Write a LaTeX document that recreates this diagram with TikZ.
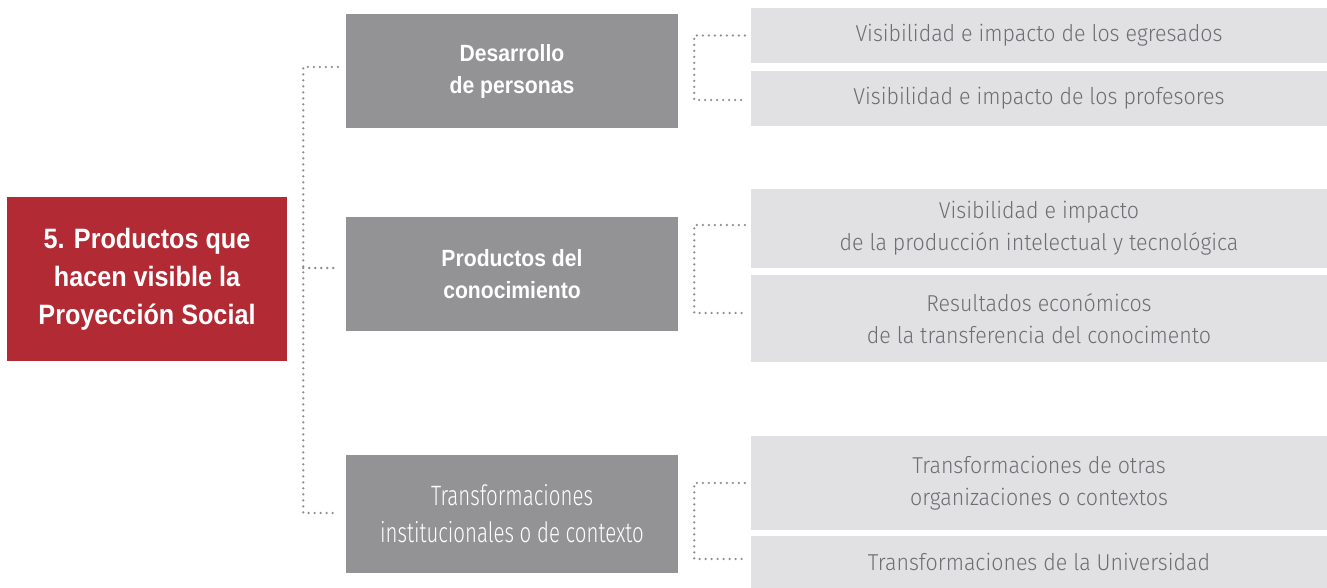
\documentclass[tikz,border=0pt]{standalone}
\usepackage{fontspec}
\setmainfont{Liberation Sans}
\newfontfamily\condb{Liberation Sans}[FakeStretch=0.9]
\newfontfamily\lightf{Fira Sans}[UprightFont=* Light, FakeStretch=0.93]
\newfontfamily\lightc{Fira Sans}[UprightFont=* Light, FakeStretch=0.73]
\usetikzlibrary{calc}
\definecolor{redbox}{HTML}{B22A33}
\definecolor{graybox}{HTML}{939396}
\definecolor{lightbox}{HTML}{E1E1E3}
\definecolor{lighttext}{HTML}{6D6E71}
\definecolor{dotc}{HTML}{8E8E90}
\begin{document}
\begin{tikzpicture}[x=1pt,y=-1pt,
  main/.style={fill=redbox, text=white, align=center, inner sep=0pt, minimum width=280pt, minimum height=164pt, font=\condb\bfseries\fontsize{28}{38}\selectfont},
  cat/.style={fill=graybox, text=white, align=center, inner sep=0pt, minimum width=332pt, minimum height=114pt, font=\condb\bfseries\fontsize{23.5}{32}\selectfont},
  item/.style={fill=lightbox, text=lighttext, align=center, inner sep=0pt, minimum width=576pt, font=\lightf\fontsize{23}{32}\selectfont},
  link/.style={draw=dotc, line width=2.6pt, line cap=round, dash pattern=on 0pt off 6pt}]
\useasboundingbox (0,0) rectangle (1327,588);
\node[main] (root) at (147,279) {5. Productos que\\hacen visible la\\Proyección Social};
\node[cat] (c1) at (512,71) {Desarrollo\\de personas};
\node[cat] (c2) at (512,274) {Productos del\\conocimiento};
\node[cat, minimum height=118pt, font=\lightc\fontsize{28}{37}\selectfont] (c3) at (512,514) {Transformaciones\\institucionales o de contexto};
\node[item, minimum height=55pt] (i1) at (1039,35.5) {Visibilidad e impacto de los egresados};
\node[item, minimum height=55pt] (i2) at (1039,98.5) {Visibilidad e impacto de los profesores};
\node[item, minimum height=79pt] (i3) at (1039,228.5) {Visibilidad e impacto\\de la producción intelectual y tecnológica};
\node[item, minimum height=87pt] (i4) at (1039,318.5) {Resultados económicos\\de la transferencia del conocimento};
\node[item, minimum height=94pt] (i5) at (1039,483) {Transformaciones de otras\\organizaciones o contextos};
\node[item, minimum height=52pt] (i6) at (1039,562) {Transformaciones de la Universidad};
% left bracket
\coordinate (bx) at ($(root.east)+(16,0)$);
\coordinate (L1) at ($(c1.west)+(-8,-4)$);
\coordinate (L2) at ($(c2.west)+(-8,-6)$);
\coordinate (L3) at ($(c3.west)+(-8,-1)$);
\draw[link] (L1) -- (L1 -| bx) -- (L3 -| bx) -- (L3);
\draw[link] (L2 -| bx) -- (L2);
% right brackets
\coordinate (rx) at ($(c1.east)+(16,0)$);
\coordinate (a1) at ($(i1.west)+(-6,0)$);
\coordinate (b1) at ($(i2.west)+(-6,1.5)$);
\draw[link] (a1) -- (a1 -| rx) -- (b1 -| rx) -- (b1);
\coordinate (a2) at ($(i3.west)+(-6,-3.5)$);
\coordinate (b2) at ($(i4.west)+(-6,-5.5)$);
\draw[link] (a2) -- (a2 -| rx) -- (b2 -| rx) -- (b2);
\coordinate (a3) at ($(i5.west)+(-6,0)$);
\coordinate (b3) at ($(i6.west)+(-6,-3)$);
\draw[link] (a3) -- (a3 -| rx) -- (b3 -| rx) -- (b3);
\end{tikzpicture}
\end{document}
